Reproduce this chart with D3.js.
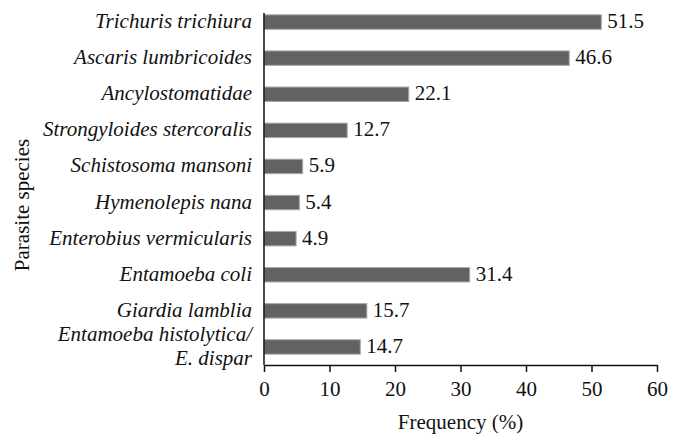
<!DOCTYPE html>
<html>
<head>
<meta charset="utf-8">
<script src="https://cdn.jsdelivr.net/npm/d3@7"></script>
<style>
  body { margin: 0; background: #fff; }
  svg text { font-family: "Liberation Serif", "Times New Roman", serif; fill: #111; }
</style>
</head>
<body>
<script>
var width = 680
var height = 448

// data
var species = ["Trichuris trichiura", "Ascaris lumbricoides", "Ancylostomatidae",
  "Strongyloides stercoralis", "Schistosoma mansoni", "Hymenolepis nana",
  "Enterobius vermicularis", "Entamoeba coli", "Giardia lamblia",
  "Entamoeba histolytica/\nE. dispar"];
var frequency = [51.5, 46.6, 22.1, 12.7, 5.9, 5.4, 4.9, 31.4, 15.7, 14.7];
var xTicks = [0, 10, 20, 30, 40, 50, 60];

var fontSize = "21px"

var svg = d3.select("body").append("svg")
    .attr("width", width)
    .attr("height", height)

var x = d3.scaleLinear().domain([0, 60]).range([264, 657])
var y = d3.scaleBand().domain(species).range([4, 365]).paddingInner(0.6).paddingOuter(0.3)

// bars
svg.selectAll("rect.bar")
    .data(frequency)
  .enter().append("rect")
    .attr("class", "bar")
    .attr("x", x(0))
    .attr("y", (d, i) => y(species[i]))
    .attr("width", d => x(d) - x(0))
    .attr("height", y.bandwidth())
    .attr("fill", "#626262")
    .attr("stroke", "#a8a8a8")
    .attr("stroke-width", 1)

// value labels
svg.selectAll("text.val")
    .data(frequency)
  .enter().append("text")
    .attr("class", "val")
    .attr("x", d => x(d) + 6)
    .attr("y", (d, i) => y(species[i]) + y.bandwidth() / 2 + 6)
    .style("font-size", fontSize)
    .text(d => d.toFixed(1))

// category labels (italic, right aligned)
species.forEach(function(name, i) {
  var lines = name.split("\n")
  var cy = y(name) + y.bandwidth() / 2 + 6
  var t = svg.append("text")
      .attr("text-anchor", "end")
      .style("font-size", fontSize)
      .style("font-style", "italic")
  lines.forEach(function(line, j) {
    t.append("tspan")
        .attr("x", 252)
        .attr("y", cy + (j - (lines.length - 1) / 2) * 24)
        .text(line)
  })
})

// x axis
var xAxis = svg.append("g")
    .attr("transform", "translate(0,365)")
    .call(d3.axisBottom(x).tickValues(xTicks).tickSize(7).tickSizeOuter(0).tickPadding(9))
xAxis.attr("font-family", "Liberation Serif").attr("font-size", 21)
xAxis.select(".domain").attr("stroke", "#111").attr("stroke-width", 1.5)
xAxis.selectAll(".tick line").attr("stroke", "#111").attr("stroke-width", 1.5)
xAxis.selectAll(".tick text")
    .style("font-size", fontSize)
    .attr("fill", "#111")

// y axis line
svg.append("line")
    .attr("x1", x(0)).attr("x2", x(0))
    .attr("y1", 13).attr("y2", 365)
    .attr("stroke", "#111")
    .attr("stroke-width", 1.5)

// axis titles
svg.append("text")
    .attr("x", (x(0) + x(60)) / 2)
    .attr("y", 429)
    .attr("text-anchor", "middle")
    .style("font-size", fontSize)
    .text("Frequency (%)")

svg.append("text")
    .attr("transform", "translate(29,205) rotate(-90)")
    .attr("text-anchor", "middle")
    .style("font-size", fontSize)
    .text("Parasite species")
</script>
</body>
</html>
